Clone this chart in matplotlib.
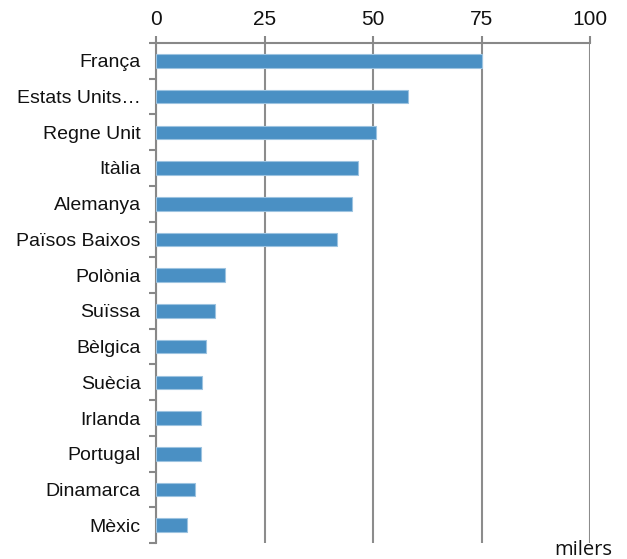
import numpy as np
import matplotlib.pyplot as plt
from matplotlib.ticker import FixedLocator

countries = ["França", "Estats Units…", "Regne Unit", "Itàlia", "Alemanya",
             "Països Baixos", "Polònia", "Suïssa", "Bèlgica", "Suècia",
             "Irlanda", "Portugal", "Dinamarca", "Mèxic"]
values = [75.0, 58.0, 50.7, 46.5, 45.2, 41.6, 15.8, 13.5, 11.6, 10.6,
          10.4, 10.4, 9.0, 7.1]
xticks = [0, 25, 50, 75, 100]

plt.rcParams["font.family"] = ["Liberation Sans", "DejaVu Sans"]

fig = plt.figure(figsize=(6.27, 5.59), dpi=100)
ax = fig.add_axes([156 / 627, 16 / 559, 434 / 627, 500 / 559])

y = np.arange(len(countries))
ax.barh(y, values, height=0.38, color="#4a90c4", edgecolor="#9cc3e0",
        linewidth=0.8, zorder=3)

ax.set_xlim(0, 100)
ax.set_ylim(len(countries) - 0.5, -0.5)

ax.xaxis.tick_top()
ax.set_xticks(xticks)
ax.tick_params(axis="x", length=5, width=1.5, color="#888888",
               labelsize=15, pad=5, labelcolor="#111111")
ax.grid(axis="x", color="#8c8c8c", linewidth=1.5, zorder=1)

ax.set_yticks(y)
ax.set_yticklabels(countries)
ax.tick_params(axis="y", which="major", length=0, labelsize=14, pad=11,
               labelcolor="#111111")
ax.yaxis.set_minor_locator(FixedLocator(np.arange(len(countries) + 1) - 0.5))
ax.tick_params(axis="y", which="minor", length=5, width=1.5, color="#888888")

for s in ["right", "bottom"]:
    ax.spines[s].set_visible(False)
for s in ["top", "left"]:
    ax.spines[s].set_color("#888888")
    ax.spines[s].set_linewidth(1.5)

fig.text(583 / 627, 1 - 550 / 559, "milers", ha="center", va="center",
         fontsize=14.5, family="Open Sans", color="#111111")

fig.savefig("out.png", dpi=100)
